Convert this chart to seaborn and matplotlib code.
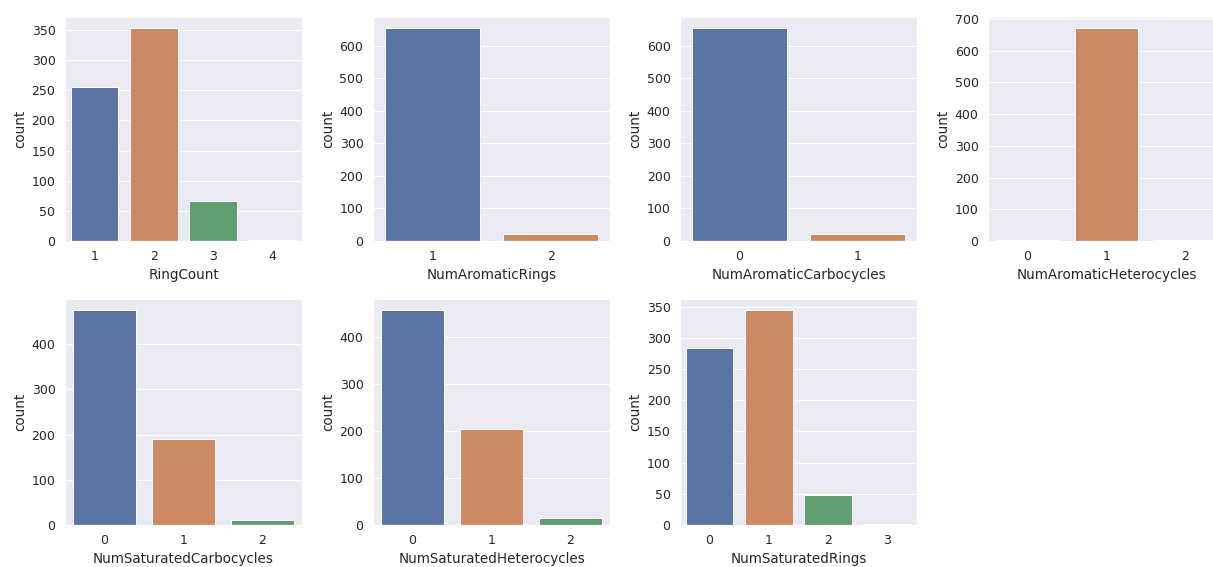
import matplotlib
matplotlib.use("Agg")
import matplotlib.pyplot as plt
import seaborn as sns
import pandas as pd

sns.set_theme()
plt.rcParams['font.family'] = ['DejaVu Sans']
plt.rcParams['axes.labelsize'] = 13.5
plt.rcParams['xtick.labelsize'] = 12.5
plt.rcParams['ytick.labelsize'] = 12.5

ring_count_cats = ["1", "2", "3", "4"]
ring_count_vals = [255, 354, 67, 2]

arom_rings_cats = ["1", "2"]
arom_rings_vals = [656, 22]

arom_carbo_cats = ["0", "1"]
arom_carbo_vals = [656, 22]

arom_hetero_cats = ["0", "1", "2"]
arom_hetero_vals = [3, 672, 3]

sat_carbo_cats = ["0", "1", "2"]
sat_carbo_vals = [476, 191, 11]

sat_hetero_cats = ["0", "1", "2"]
sat_hetero_vals = [459, 205, 14]

sat_rings_cats = ["0", "1", "2", "3"]
sat_rings_vals = [283, 345, 48, 2]

panels = [
    ("RingCount", ring_count_cats, ring_count_vals),
    ("NumAromaticRings", arom_rings_cats, arom_rings_vals),
    ("NumAromaticCarbocycles", arom_carbo_cats, arom_carbo_vals),
    ("NumAromaticHeterocycles", arom_hetero_cats, arom_hetero_vals),
    ("NumSaturatedCarbocycles", sat_carbo_cats, sat_carbo_vals),
    ("NumSaturatedHeterocycles", sat_hetero_cats, sat_hetero_vals),
    ("NumSaturatedRings", sat_rings_cats, sat_rings_vals),
]

W, H = 1213, 567
fig = plt.figure(figsize=(W / 72, H / 72), dpi=72)

lefts = [65, 373, 680, 988]
width = 237
rows = [(326, 224), (42, 226)]

for i, (name, cats, vals) in enumerate(panels):
    r, c = divmod(i, 4)
    b, h = rows[r]
    ax = fig.add_axes([lefts[c] / W, b / H, width / W, h / H])
    df = pd.DataFrame({name: cats, "count": vals})
    sns.barplot(data=df, x=name, y="count", hue=name, palette="deep",
                legend=False, ax=ax, order=cats, hue_order=cats)
    ax.set_xlabel(name)
    ax.set_ylabel("count")

fig.savefig("out.png", dpi=72)
